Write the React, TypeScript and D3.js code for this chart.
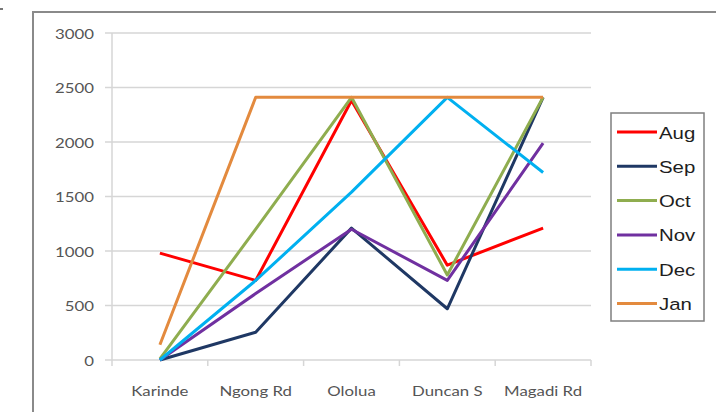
import React from "react";
import * as d3 from "d3";

const categories = ["Karinde", "Ngong Rd", "Ololua", "Duncan S", "Magadi Rd"];
const seriesNames = ["Aug", "Sep", "Oct", "Nov", "Dec", "Jan"];
const aug = [980, 730, 2380, 870, 1210];
const sep = [0, 255, 1210, 470, 2410];
const oct = [10, 1200, 2410, 780, 2410];
const nov = [0, 610, 1200, 730, 1990];
const dec = [0, 730, 1540, 2410, 1720];
const jan = [140, 2410, 2410, 2410, 2410];
const yTicks = [0, 500, 1000, 1500, 2000, 2500, 3000];
const colors = ["#ff0000", "#1f3864", "#8fad4f", "#7030a0", "#00b0f0", "#e38a3e"];

const seriesValues = [aug, sep, oct, nov, dec, jan];

export default function App() {
  const W = 725, H = 412;
  const left = 112, right = 591, top = 33, bottom = 360;
  const x = d3.scaleBand<string>().domain(categories).range([left, right]);
  const y = d3.scaleLinear().domain([0, 3000]).range([bottom, top]);
  const line = d3
    .line<number>()
    .x((_, i) => (x(categories[i]) as number) + x.bandwidth() / 2)
    .y((d) => y(d));
  const tickFont = "Lato, 'Open Sans', sans-serif";
  const sx = 1.2;
  return (
    <svg width={W} height={H} style={{ position: "absolute", left: 0, top: 0, background: "#fff" }}>
      <rect x={0} y={0} width={W} height={H} fill="#fff" />
      <rect x={0} y={8} width={3} height={2} fill="#777" />
      <path d="M33,412 L33,12 L716,12" fill="none" stroke="#8a8a8a" strokeWidth={2} />
      {yTicks.map((t) => (
        <g key={t}>
          <line x1={105} x2={right} y1={y(t)} y2={y(t)} stroke="#d6d6d6" strokeWidth={1.5} />
          <text
            transform={`translate(94,${y(t) + 5.5}) scale(${sx},1)`}
            textAnchor="end"
            fontFamily={tickFont}
            fontSize={14}
            fill="#555"
          >
            {t}
          </text>
        </g>
      ))}
      <line x1={left} x2={left} y1={top} y2={bottom + 6} stroke="#d6d6d6" strokeWidth={1.5} />
      {categories.map((c) => (
        <g key={c}>
          <line
            x1={(x(c) as number) + x.bandwidth()}
            x2={(x(c) as number) + x.bandwidth()}
            y1={bottom}
            y2={bottom + 6}
            stroke="#d6d6d6"
            strokeWidth={1.5}
          />
          <text
            transform={`translate(${(x(c) as number) + x.bandwidth() / 2},396) scale(${sx},1)`}
            textAnchor="middle"
            fontFamily={tickFont}
            fontSize={14}
            fill="#555"
          >
            {c}
          </text>
        </g>
      ))}
      {seriesValues.map((vals, i) => (
        <path
          key={seriesNames[i]}
          d={line(vals) as string}
          fill="none"
          stroke={colors[i]}
          strokeWidth={3}
          strokeLinejoin="round"
        />
      ))}
      <rect x={611} y={113} width={93} height={208} fill="#fff" stroke="#7f7f7f" strokeWidth={1.5} />
      {seriesNames.map((s, i) => {
        const yy = 132 + i * 34.3;
        return (
          <g key={s}>
            <line x1={617} x2={657} y1={yy} y2={yy} stroke={colors[i]} strokeWidth={3} />
            <text
              transform={`translate(659,${yy + 6.5}) scale(${sx},1)`}
              fontFamily="'Liberation Sans', Arial, sans-serif"
              fontSize={17}
              fill="#1e1e1e"
            >
              {s}
            </text>
          </g>
        );
      })}
    </svg>
  );
}
